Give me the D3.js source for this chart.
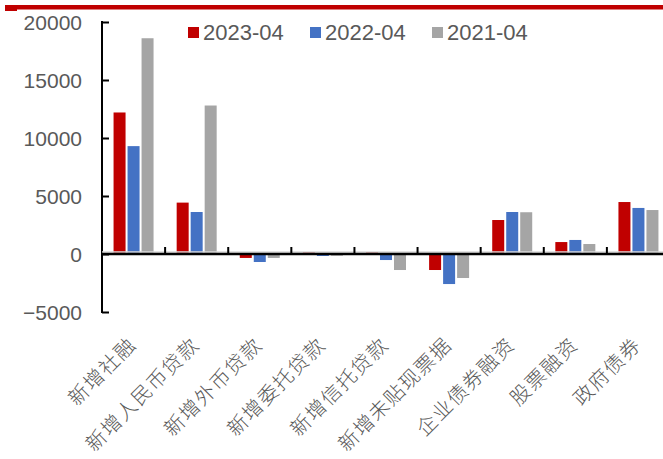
<!DOCTYPE html>
<html><head><meta charset="utf-8">
<script src="https://cdn.jsdelivr.net/npm/d3@7/dist/d3.min.js"></script>
<style>
html,body{margin:0;padding:0;background:#fff;}
svg{display:block;}
</style></head>
<body>
<svg id="chart" width="663" height="459"></svg>
<script>
const categories = ["新增社融","新增人民币贷款","新增外币贷款","新增委托贷款","新增信托贷款","新增未贴现票据","企业债券融资","股票融资","政府债券"];
const seriesNames = ["2023-04","2022-04","2021-04"];
const v2023 = [12200, 4430, -340, 150, 150, -1380, 2930, 1030, 4480];
const v2022 = [9300, 3620, -690, -170, -520, -2590, 3620, 1210, 3970];
const v2021 = [18600, 12800, -340, -150, -1380, -2070, 3600, 860, 3790];
const yTicks = [-5000, 0, 5000, 10000, 15000, 20000];
const colors = ["#c00000", "#4472c4", "#a5a5a5"];

const seriesValues = [v2023, v2022, v2021];
const svg = d3.select("#chart");
const W = 663, H = 459;

// top red rule
svg.append("rect").attr("x", 5).attr("y", 5).attr("width", W - 5).attr("height", 4.5).attr("fill", "#c00000");
svg.append("rect").attr("x", 5).attr("y", 5).attr("width", 12).attr("height", 6).attr("fill", "#c00000");

const x0 = d3.scaleBand().domain(categories).range([102, 670]).paddingInner(0).paddingOuter(0);
const x1 = d3.scaleBand().domain(seriesNames).range([-20, 20]).paddingInner(1/7).paddingOuter(0);
const y = d3.scaleLinear().domain([-5000, 20000]).range([312, 22]);

// bars
seriesNames.forEach((s, si) => {
  svg.append("g").selectAll("rect").data(categories).join("rect")
    .attr("x", c => x0(c) + x0.bandwidth() / 2 + x1(s))
    .attr("width", x1.bandwidth())
    .attr("y", (c, i) => y(Math.max(0, seriesValues[si][i])))
    .attr("height", (c, i) => Math.abs(y(seriesValues[si][i]) - y(0)))
    .attr("fill", colors[si]);
});

// y axis
const yAxis = d3.axisRight(y).tickValues(yTicks).tickSize(7).tickFormat("");
const gy = svg.append("g").attr("transform", "translate(102,0)").call(yAxis);
gy.select(".domain").remove();
gy.selectAll(".tick line").attr("stroke", "#000").attr("stroke-width", 2);
svg.append("line").attr("x1", 102).attr("x2", 102).attr("y1", y(20000) - 1).attr("y2", y(-5000) + 1)
  .attr("stroke", "#000").attr("stroke-width", 2);
svg.append("g").selectAll("text").data(yTicks).join("text")
  .attr("x", 82).attr("y", d => y(d)).attr("dy", "0.36em")
  .attr("text-anchor", "end")
  .attr("font-family", "'Liberation Sans', Arial, sans-serif")
  .attr("font-size", 21).attr("fill", "#595959")
  .text(d => d < 0 ? "\u2212" + Math.abs(d) : d);

// x axis (zero line)
svg.append("line").attr("x1", 102).attr("x2", W).attr("y1", y(0) - 2).attr("y2", y(0) - 2)
  .attr("stroke", "#d9d9d9").attr("stroke-width", 1.5);
svg.append("line").attr("x1", 101).attr("x2", W).attr("y1", y(0)).attr("y2", y(0))
  .attr("stroke", "#000").attr("stroke-width", 2.5);
const bounds = categories.slice(1).map(c => x0(c));
svg.append("g").selectAll("line").data(bounds).join("line")
  .attr("x1", d => d).attr("x2", d => d).attr("y1", y(0)).attr("y2", y(0) - 7)
  .attr("stroke", "#000").attr("stroke-width", 2);

// category labels
svg.append("g").selectAll("text").data(categories).join("text")
  .attr("transform", c => `translate(${x0(c) + x0.bandwidth() / 2 + 4},346) rotate(-45)`)
  .attr("text-anchor", "end")
  .attr("font-family", "'Noto Sans CJK SC', sans-serif")
  .attr("font-weight", 300)
  .attr("letter-spacing", "1.5px")
  .attr("font-size", 20).attr("fill", "#595959")
  .text(c => c);

// legend
const legX = [188, 310, 432];
const leg = svg.append("g").selectAll("g").data(seriesNames).join("g")
  .attr("transform", (d, i) => `translate(${legX[i]},27)`);
leg.append("rect").attr("width", 11).attr("height", 11).attr("fill", (d, i) => colors[i]);
leg.append("text").attr("x", 15).attr("y", 13)
  .attr("font-family", "'Liberation Sans', Arial, sans-serif")
  .attr("font-size", 22).attr("fill", "#595959")
  .text(d => d);
</script>
</body></html>
